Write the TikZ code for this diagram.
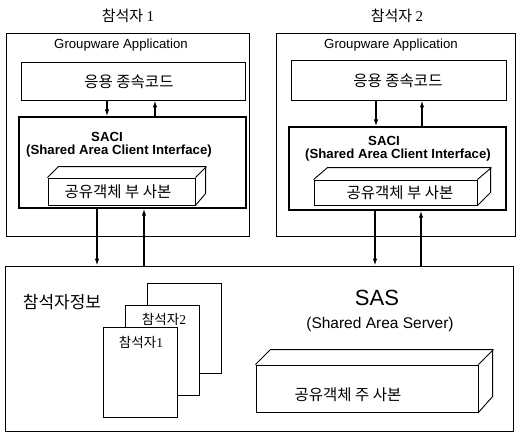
\documentclass[tikz,border=0pt]{standalone}
\usepackage{fontspec}
\setmainfont{Liberation Sans}
\newfontfamily\kr{Noto Sans CJK KR}
\newfontfamily\sernum{Liberation Serif}
\usetikzlibrary{arrows.meta}
\tikzset{
  box/.style={draw, line width=0.9pt, fill=white, inner sep=0pt},
  tbox/.style={draw, line width=1.4pt, fill=white, inner sep=0pt},
  arr/.style={line width=1.3pt, -{Latex[length=7pt,width=4.5pt]}},
  lat/.style={inner sep=0pt, font=\fontsize{13.2}{15}\selectfont},
  latb/.style={inner sep=0pt, font=\bfseries\fontsize{13.2}{15}\selectfont},
  krt/.style={inner sep=0pt, font=\kr\fontsize{15.5}{17}\selectfont},
}
\begin{document}
\begin{tikzpicture}[x=1pt,y=-1pt]
\useasboundingbox (0,0) rectangle (517,436);
\fill[white] (0,0) rectangle (517,436);

% titles
\node[inner sep=0pt, font=\kr\fontsize{15}{17}\selectfont] (t1) at (128,16) {참석자 {\sernum 1}};
\node[inner sep=0pt, font=\kr\fontsize{15}{17}\selectfont] (t2) at (397,16) {참석자 {\sernum 2}};

% participant boxes
\node[box, minimum width=243, minimum height=203] (P1) at (127.5,134.5) {};
\node[box, minimum width=239, minimum height=203] (P2) at (395.5,134.5) {};
\node[lat] (g1) at (121,45) {Groupware Application};
\node[lat] (g2) at (391,45) {Groupware Application};

% application code
\node[box, minimum width=224, minimum height=38] (A1) at (133,81) {};
\node[box, minimum width=215, minimum height=40] (A2) at (398.5,80) {};
\node[krt] (a1t) at (129,82) {응용 종속코드};
\node[krt] (a2t) at (398,81) {응용 종속코드};

% SACI
\node[tbox, minimum width=227, minimum height=91] (S1) at (132.5,162.5) {};
\node[tbox, minimum width=217, minimum height=83] (S2) at (397.5,168.5) {};
\node[latb] (s1a) at (107,137) {SACI};
\node[latb] (s1b) at (119,151) {(Shared Area Client Interface)};
\node[latb] (s2a) at (384,141) {SACI};
\node[latb] (s2b) at (398,155) {(Shared Area Client Interface)};

% copy boxes (3D)
\node[box, minimum width=147, minimum height=27] (C1) at (121.5,191.5) {};
\draw[line width=0.9pt] (C1.north west) -- ++(11,-11) -- ++(147,0) -- ++(0,27) -- (C1.south east);
\draw[line width=0.9pt] (C1.north east) -- ++(11,-11);
\node[krt] (c1t) at (118,192) {공유객체 부 사본};

\node[box, minimum width=163, minimum height=25] (C2) at (395.5,192.5) {};
\draw[line width=0.9pt] (C2.north west) -- ++(14,-12) -- ++(163,0) -- ++(0,25) -- (C2.south east);
\draw[line width=0.9pt] (C2.north east) -- ++(14,-12);
\node[krt] (c2t) at (400,193) {공유객체 부 사본};

% SAS
\node[box, minimum width=508, minimum height=165] (SAS) at (259,348.5) {};
\node[inner sep=0pt, font=\fontsize{22}{24}\selectfont] (sas) at (377,298) {SAS};
\node[inner sep=0pt, font=\fontsize{15.5}{17}\selectfont] (sasb) at (380,324) {(Shared Area Server)};
\node[inner sep=0pt, font=\kr\fontsize{17}{19}\selectfont] (info) at (62,302) {참석자정보};

% pages
\node[box, minimum width=74, minimum height=90] (pg3) at (184,328) {};
\node[box, minimum width=74, minimum height=90] (pg2) at (162,350) {};
\node[inner sep=0pt, font=\kr\fontsize{13.5}{15}\selectfont] (pg2t) at (164,319) {참석자{\sernum 2}};
\node[box, minimum width=74, minimum height=90] (pg1) at (140,372) {};
\node[inner sep=0pt, font=\kr\fontsize{13.5}{15}\selectfont] (pg1t) at (141,342) {참석자{\sernum 1}};

% main copy (3D)
\node[box, minimum width=222, minimum height=47] (M) at (367,388.5) {};
\draw[line width=0.9pt] (M.north west) -- ++(15,-15) -- ++(222,0) -- ++(0,47) -- (M.south east);
\draw[line width=0.9pt] (M.north east) -- ++(15,-15);
\node[krt] (mt) at (348,395) {공유객체 주 사본};

% arrow columns
\coordinate (xa) at (107,0);
\coordinate (xb) at (155,0);
\coordinate (xc) at (376,0);
\coordinate (xd) at (422,0);
\coordinate (xe) at (97,0);
\coordinate (xf) at (144,0);
\coordinate (xg) at (375,0);
\coordinate (xh) at (421,0);

\draw[arr] (A1.south -| xa) -- (S1.north -| xa);
\draw[arr] (S1.north -| xb) -- (A1.south -| xb);
\draw[arr] (A2.south -| xc) -- (S2.north -| xc);
\draw[arr] (S2.north -| xd) -- (A2.south -| xd);

\draw[arr] (S1.south -| xe) -- (SAS.north -| xe);
\draw[arr] (SAS.north -| xf) -- (S1.south -| xf);
\draw[arr] (S2.south -| xg) -- (SAS.north -| xg);
\draw[arr] (SAS.north -| xh) -- (S2.south -| xh);
\end{tikzpicture}
\end{document}
